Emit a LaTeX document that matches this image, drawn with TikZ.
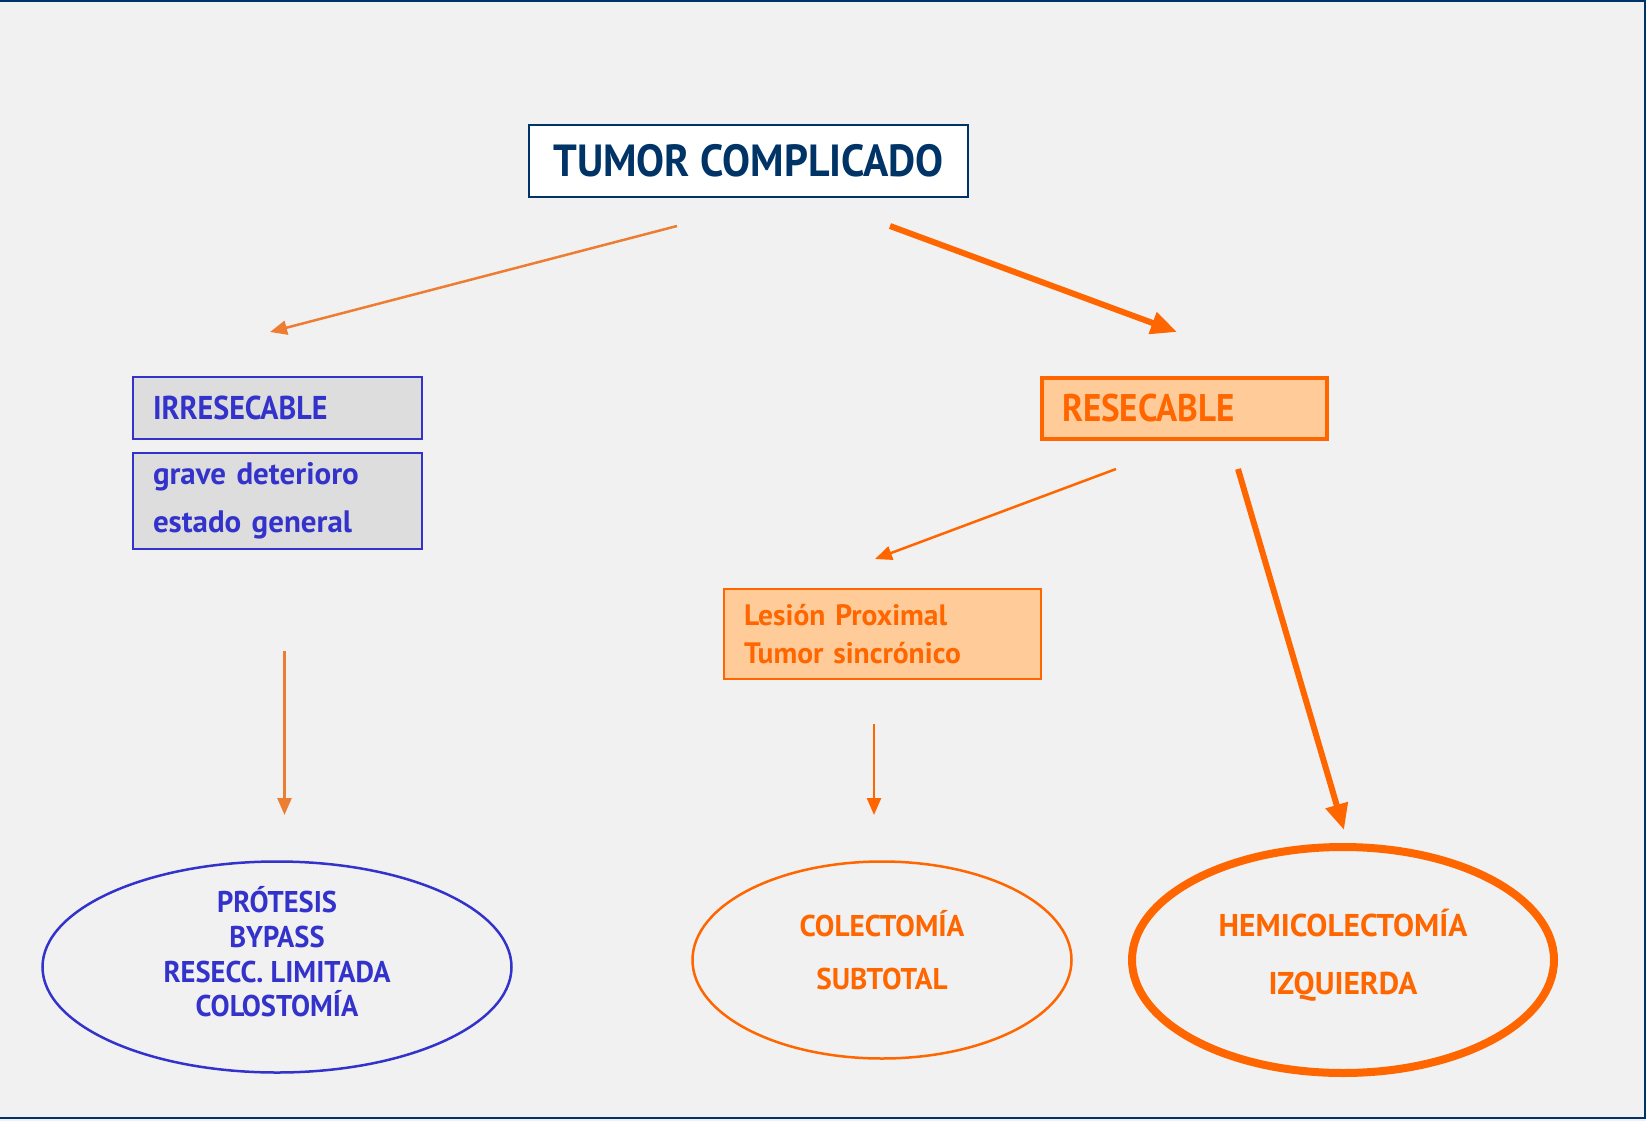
\documentclass[tikz,border=0pt]{standalone}
\usepackage{fontspec}
\setmainfont{PT Sans}
\newfontfamily\narrowA{PT Sans}[FakeStretch=0.93]
\newfontfamily\narrowB{PT Sans}[FakeStretch=0.91]
\newfontfamily\narrowC{PT Sans}[FakeStretch=0.95]
\newfontfamily\narrowD{PT Sans}[FakeStretch=0.975]
\usetikzlibrary{arrows.meta,shapes.geometric}
\definecolor{navy}{RGB}{0,51,102}
\definecolor{bluetxt}{RGB}{51,51,204}
\definecolor{greyfill}{RGB}{221,221,221}
\definecolor{orng}{RGB}{255,102,0}
\definecolor{lightorng}{RGB}{255,204,153}
\definecolor{softorng}{RGB}{237,125,49}
\definecolor{bg}{RGB}{241,241,241}
\tikzset{
  leftbox/.style={draw, rectangle, inner xsep=20pt, inner ysep=0pt, align=left, font=\bfseries},
  oval/.style={draw, ellipse, inner sep=0pt},
  ovaltext/.style={align=center, font=\bfseries, inner sep=0pt},
  thinarrow/.style={line width=2.5pt, -{Triangle[length=17pt,width=14pt]}},
  thickarrow/.style={line width=6pt, -{Triangle[length=26pt,width=22pt]}}
}
\begin{document}
\begin{tikzpicture}[x=1pt,y=-1pt]
\useasboundingbox (0,0) rectangle (1646,1121);
\fill[bg] (0,0) rectangle (1646,1121);
\draw[navy, line width=2pt] (0,1) -- (1645,1) -- (1645,1118) -- (0,1118);

% top node
\node[draw=navy, fill=white, line width=2pt, text=navy, font=\narrowA\bfseries\fontsize{45}{50}\selectfont,
      minimum width=439pt, minimum height=72pt, inner sep=0pt] (tumor) at (748.5,161) {TUMOR COMPLICADO};

% left branch
\node[leftbox, draw=bluetxt, fill=greyfill, line width=2pt, text=bluetxt, text width=249pt,
      minimum height=62pt, font=\narrowB\bfseries\fontsize{33}{40}\selectfont] (irr) at (277.5,408) {IRRESECABLE};
\node[leftbox, draw=bluetxt, fill=greyfill, line width=2pt, text=bluetxt, text width=249pt,
      minimum height=96pt, font=\bfseries\fontsize{31}{48}\selectfont] (grave) at (277.5,501) {grave deterioro\\estado general};

% right branch
\node[leftbox, draw=orng, fill=lightorng, line width=4pt, text=orng, text width=245pt,
      minimum height=61pt, font=\narrowB\bfseries\fontsize{38.5}{44}\selectfont] (res) at (1184.5,408.5) {RESECABLE};
\node[leftbox, draw=orng, fill=lightorng, line width=2pt, text=orng, text width=277pt,
      minimum height=90pt, font=\bfseries\fontsize{29.5}{38}\selectfont] (lesion) at (882.5,634) {Lesión Proximal\\Tumor sincrónico};

% ellipses
\node[oval, draw=bluetxt, line width=2.5pt, minimum width=469pt, minimum height=211pt] (e1) at (277,967) {};
\node[ovaltext, text=bluetxt, font=\narrowC\bfseries\fontsize{30}{34.7}\selectfont] (t1) at (277,952)
  {PRÓTESIS\\BYPASS\\RESECC. LIMITADA\\COLOSTOMÍA};
\node[oval, draw=orng, line width=2.5pt, minimum width=379pt, minimum height=197pt] (e2) at (882,960) {};
\node[ovaltext, text=orng, font=\narrowD\bfseries\fontsize{30}{53}\selectfont] (t2) at (882,950)
  {COLECTOMÍA\\SUBTOTAL};
\node[oval, draw=orng, line width=8pt, minimum width=422pt, minimum height=226pt] (e3) at (1343,960) {};
\node[ovaltext, text=orng, font=\bfseries\fontsize{31.5}{58}\selectfont] (t3) at (1343,955)
  {HEMICOLECTOMÍA\\IZQUIERDA};

% arrow end points
\coordinate (a1s) at (677,226);  \coordinate (a1e) at (270,332);
\coordinate (a2s) at (890,226);  \coordinate (a2e) at (1177,332);
\coordinate (a3s) at (1116,469); \coordinate (a3e) at (875,559);
\coordinate (a4s) at (1238,469); \coordinate (a4e) at (1344,830);
\coordinate (a5s) at (284.5,651); \coordinate (a5e) at (284.5,815);
\coordinate (a6s) at (874,724);  \coordinate (a6e) at (874,815);

\draw[thinarrow, softorng] (a1s) -- (a1e);
\draw[thickarrow, orng] (a2s) -- (a2e);
\draw[thinarrow, orng] (a3s) -- (a3e);
\draw[thickarrow, orng] (a4s) -- (a4e);
\draw[thinarrow, softorng] (a5s) -- (a5e);
\draw[thinarrow, orng] (a6s) -- (a6e);
\end{tikzpicture}
\end{document}
